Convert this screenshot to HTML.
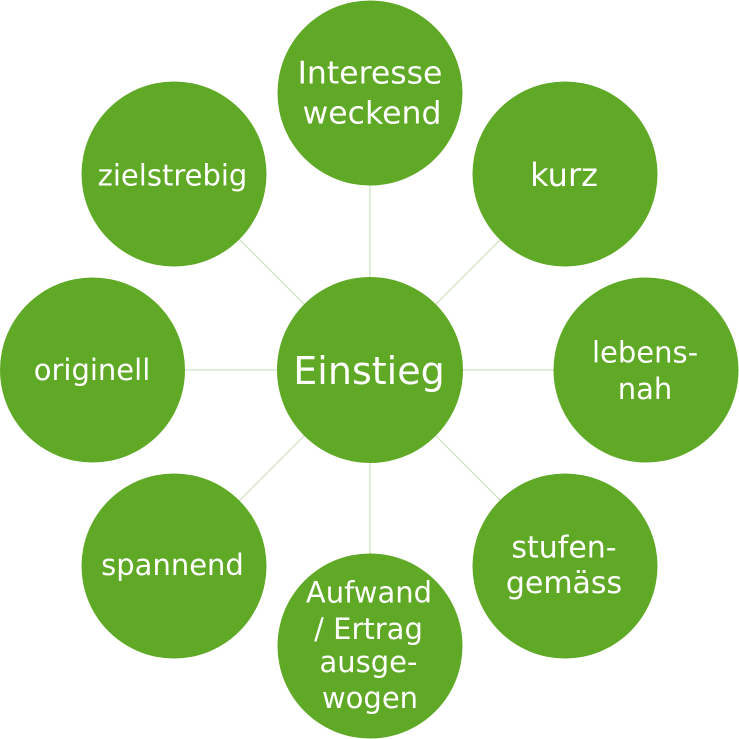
<!DOCTYPE html>
<html>
<head>
<meta charset="utf-8">
<style>
  html, body { margin: 0; padding: 0; background: #ffffff; }
  svg { display: block; }
  text { font-family: "DejaVu Sans", "Liberation Sans", sans-serif; fill: #ffffff; text-anchor: middle; }
</style>
</head>
<body>
<svg width="739" height="739" viewBox="0 0 739 739" xmlns="http://www.w3.org/2000/svg">
  <g stroke="#cfe3c0" stroke-width="1.3">
    <line x1="370" y1="370" x2="370" y2="93"/>
    <line x1="370" y1="370" x2="566" y2="174"/>
    <line x1="370" y1="370" x2="646" y2="370"/>
    <line x1="370" y1="370" x2="566" y2="566"/>
    <line x1="370" y1="370" x2="370" y2="646"/>
    <line x1="370" y1="370" x2="174" y2="566"/>
    <line x1="370" y1="370" x2="93" y2="370"/>
    <line x1="370" y1="370" x2="174" y2="174"/>
  </g>
  <g fill="#60a927">
    <circle cx="370" cy="370" r="93"/>
    <circle cx="370" cy="93" r="92.5"/>
    <circle cx="565" cy="174" r="92.5"/>
    <circle cx="646" cy="370" r="92.5"/>
    <circle cx="565" cy="566" r="92.5"/>
    <circle cx="370" cy="646" r="92.5"/>
    <circle cx="174" cy="566" r="92.5"/>
    <circle cx="92.5" cy="370" r="92.5"/>
    <circle cx="174" cy="174" r="92.5"/>
  </g>

  <text x="369" y="384" font-size="38">Einstieg</text>

  <text x="370" y="83.5" font-size="31.5">Interesse</text>
  <text x="372" y="123.5" font-size="31.5">weckend</text>

  <text x="564" y="186" font-size="32">kurz</text>

  <text x="645" y="362.5" font-size="29">lebens-</text>
  <text x="645" y="399" font-size="29">nah</text>

  <text x="564" y="557.5" font-size="30">stufen-</text>
  <text x="564" y="593" font-size="30">gemäss</text>

  <text x="369" y="602.5" font-size="29">Aufwand</text>
  <text x="368.5" y="639" font-size="29">/ Ertrag</text>
  <text x="368.5" y="672" font-size="29">ausge-</text>
  <text x="370" y="708" font-size="29">wogen</text>

  <text x="172.5" y="575" font-size="29">spannend</text>

  <text x="92" y="380" font-size="29">originell</text>

  <text x="172.5" y="185.5" font-size="29">zielstrebig</text>
</svg>
</body>
</html>
